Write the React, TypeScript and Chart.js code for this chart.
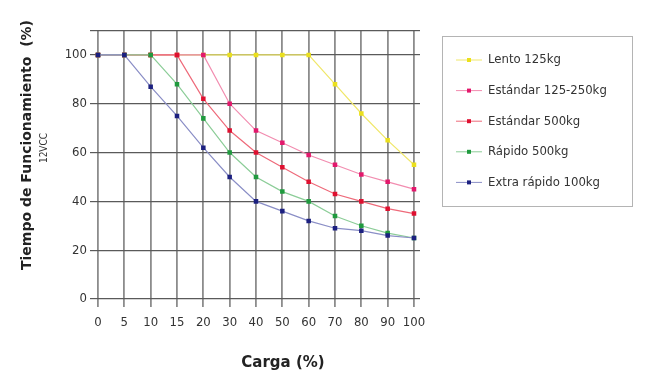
import React, { useEffect, useRef } from 'react';
import { Chart, registerables } from 'chart.js';

Chart.register(...registerables);

const categories = ['0', '5', '10', '15', '20', '30', '40', '50', '60', '70', '80', '90', '100'];
const seriesNames = ['Lento 125kg', 'Estándar 125-250kg', 'Estándar 500kg', 'Rápido 500kg', 'Extra rápido 100kg'];
const lento = [100, 100, 100, 100, 100, 100, 100, 100, 100, 88, 76, 65, 55];
const estandar125 = [100, 100, 100, 100, 100, 80, 69, 64, 59, 55, 51, 48, 45];
const estandar500 = [100, 100, 100, 100, 82, 69, 60, 54, 48, 43, 40, 37, 35];
const rapido = [100, 100, 100, 88, 74, 60, 50, 44, 40, 34, 30, 27, 25];
const extraRapido = [100, 100, 87, 75, 62, 50, 40, 36, 32, 29, 28, 26, 25];
const seriesValues = [lento, estandar125, estandar500, rapido, extraRapido];
const lineColors = ['#f0e76a', '#f28db0', '#ee6a7a', '#8ccd98', '#8a8ec6'];
const pointColors = ['#ebe01c', '#e3186c', '#df1030', '#1f9a3e', '#1c2080'];
const yTitle = 'Tiempo de Funcionamiento  (%)';
const ySubtitle = '12VCC';
const xTitle = 'Carga (%)';

const TICK_FONT = '"DejaVu Sans Condensed", "DejaVu Sans", sans-serif';

const decorPlugin = {
  id: 'decor',
  afterDraw(chart: any) {
    const ctx = chart.ctx;
    ctx.save();
    // Legend box
    ctx.strokeStyle = '#b4b4b4';
    ctx.lineWidth = 1;
    ctx.strokeRect(442.5, 36.5, 190, 170);
    chart.data.datasets.forEach((ds: any, i: number) => {
      const y = 60 + i * 30.6;
      ctx.strokeStyle = ds.borderColor;
      ctx.lineWidth = 1;
      ctx.beginPath();
      ctx.moveTo(456, y);
      ctx.lineTo(482, y);
      ctx.stroke();
      ctx.fillStyle = ds.pointBackgroundColor;
      ctx.fillRect(467, y - 2, 4, 4);
      ctx.fillStyle = '#333';
      ctx.font = '13px ' + TICK_FONT;
      ctx.textAlign = 'left';
      ctx.textBaseline = 'middle';
      ctx.fillText(ds.label, 488, y);
    });
    // Axis titles
    ctx.fillStyle = '#222';
    ctx.font = 'bold 15px "DejaVu Sans", sans-serif';
    ctx.textAlign = 'center';
    ctx.textBaseline = 'middle';
    ctx.fillText(xTitle, 283, 363);
    ctx.save();
    ctx.translate(27, 145);
    ctx.rotate(-Math.PI / 2);
    ctx.font = 'bold 14px "DejaVu Sans", sans-serif';
    ctx.fillText(yTitle, 0, 0);
    ctx.restore();
    ctx.save();
    ctx.translate(44, 148);
    ctx.rotate(-Math.PI / 2);
    ctx.font = '10px ' + TICK_FONT;
    ctx.fillStyle = '#333';
    ctx.fillText(ySubtitle, 0, 0);
    ctx.restore();
    ctx.restore();
  },
};

export default function App() {
  const ref = useRef<HTMLCanvasElement>(null);
  useEffect(() => {
    if (!ref.current) return;
    const chart = new Chart(ref.current, {
      type: 'line',
      data: {
        labels: categories,
        datasets: seriesNames.map((name, i) => ({
          label: name,
          data: seriesValues[i],
          borderColor: lineColors[i],
          backgroundColor: pointColors[i],
          pointBackgroundColor: pointColors[i],
          pointBorderColor: pointColors[i],
          pointBorderWidth: 0,
          pointStyle: 'rect',
          pointRadius: 3.2,
          borderWidth: 1.2,
          tension: 0,
          fill: false,
          order: seriesNames.length - 1 - i,
        })),
      },
      options: {
        responsive: false,
        animation: false,
        layout: { padding: { left: 58, right: 230, top: 30.5, bottom: 52 } },
        plugins: { legend: { display: false }, tooltip: { enabled: false } },
        scales: {
          x: {
            type: 'category',
            offset: false,
            border: { display: false },
            grid: { color: '#8c8c8c', lineWidth: 1.8, tickLength: 8, tickColor: '#8c8c8c' },
            ticks: { color: '#333', font: { family: TICK_FONT, size: 13 }, padding: 8, maxRotation: 0, autoSkip: false },
            afterFit: (s: any) => { s.height = 30; },
          },
          y: {
            min: 0,
            max: 110,
            border: { display: false },
            grid: { color: '#5a5a5a', lineWidth: 1.2, tickLength: 8, tickColor: '#5a5a5a' },
            ticks: {
              stepSize: 20,
              color: '#333',
              font: { family: TICK_FONT, size: 13 },
              padding: 3,
              callback: (v: any) => (v === 110 ? '' : String(v)),
            },
            afterFit: (s: any) => { s.width = 40; },
          },
          y2: {
            position: 'right',
            min: 0,
            max: 110,
            border: { display: false },
            grid: { drawOnChartArea: false, tickLength: 6, color: '#5a5a5a', lineWidth: 1.2 },
            ticks: { stepSize: 20, display: false },
            afterFit: (s: any) => { s.width = 6; },
          },
        },
      },
      plugins: [decorPlugin],
    });
    return () => chart.destroy();
  }, []);
  return (
    <div style={{ position: 'absolute', left: 0, top: 0, width: 650, height: 381, background: '#fff' }}>
      <canvas ref={ref} width={650} height={381} style={{ width: 650, height: 381 }} />
    </div>
  );
}
